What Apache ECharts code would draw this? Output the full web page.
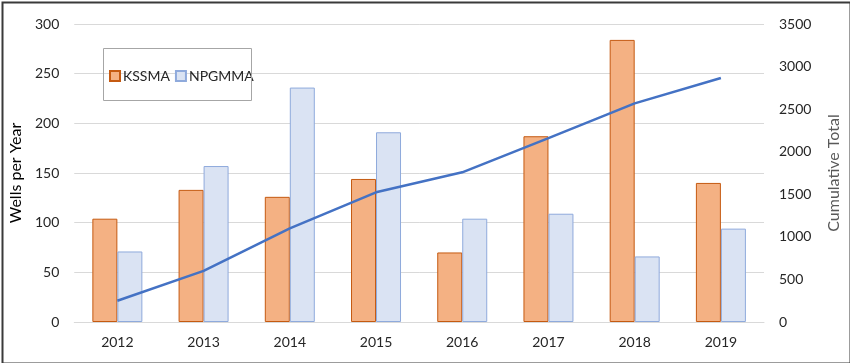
<!DOCTYPE html>
<html>
<head>
<meta charset="utf-8">
<script src="https://cdn.jsdelivr.net/npm/echarts@6/dist/echarts.min.js"></script>
<style>
html,body{margin:0;padding:0;background:#fff;}
#c{width:850px;height:363px;}
</style>
</head>
<body>
<div id="c"></div>
<script>
const years = ['2012','2013','2014','2015','2016','2017','2018','2019'];
const kssma = [104, 133, 126, 144, 70, 187, 284, 140];
const npgmma = [71, 157, 236, 191, 104, 109, 66, 94];
const cumulative = [250, 600, 1100, 1523, 1758, 2160, 2568, 2866];

const FONT = 'Lato, "Open Sans", sans-serif';
const chart = echarts.init(document.getElementById('c'));
chart.setOption({
  animation: false,
  textStyle: { fontFamily: FONT },
  grid: { left: 67, right: 83, top: 24, bottom: 41, containLabel: false },
  legend: {
    left: 104, top: 64,
    itemWidth: 10, itemHeight: 10, itemGap: 5,
    textStyle: { fontFamily: FONT, fontSize: 14, color: '#262626', padding: [0,0,0,-2] },
    data: [
      { name: 'KSSMA', icon: 'rect' },
      { name: 'NPGMMA', icon: 'rect' }
    ]
  },
  graphic: [
    { type: 'rect', left: 101, top: 46, shape: { width: 148, height: 52 },
      style: { fill: 'none', stroke: '#a6a6a6', lineWidth: 1 }, z: 100 },
    { type: 'rect', left: 0, top: 0, shape: { x: 1, y: 1, width: 848, height: 361 },
      style: { fill: 'none', stroke: '#3a3a3a', lineWidth: 2 }, z: 100 }
  ],
  xAxis: {
    type: 'category', data: years,
    axisLine: { lineStyle: { color: '#d9d9d9', width: 1 } },
    axisTick: { show: false },
    axisLabel: { color: '#262626', fontSize: 14, margin: 13, fontFamily: FONT }
  },
  yAxis: [
    {
      type: 'value', min: 0, max: 300, interval: 50,
      name: 'Wells per Year', nameLocation: 'middle', nameGap: 44,
      nameTextStyle: { fontSize: 16, color: '#000', fontFamily: FONT },
      axisLabel: { color: '#262626', fontSize: 14, margin: 15, fontFamily: FONT },
      splitLine: { lineStyle: { color: '#d9d9d9' } },
      axisLine: { show: false }, axisTick: { show: false }
    },
    {
      type: 'value', min: 0, max: 3500, interval: 500,
      name: 'Cumulative Total', nameLocation: 'middle', nameGap: 62, nameRotate: 90,
      nameTextStyle: { fontSize: 16, color: '#595959', fontFamily: FONT },
      axisLabel: { color: '#262626', fontSize: 14, margin: 15, fontFamily: FONT,
        formatter: function (v) { return String(v); } },
      splitLine: { show: false },
      axisLine: { show: false }, axisTick: { show: false }
    }
  ],
  series: [
    {
      name: 'KSSMA', type: 'bar', data: kssma, barWidth: 25, barGap: '0%',
      itemStyle: { color: '#f4b183', borderColor: '#c55a11', borderWidth: 1 }
    },
    {
      name: 'NPGMMA', type: 'bar', data: npgmma, barWidth: 25, barGap: '0%',
      itemStyle: { color: '#dae3f3', borderColor: '#8faadc', borderWidth: 1 }
    },
    {
      name: 'Cumulative', type: 'line', yAxisIndex: 1, data: cumulative,
      symbol: 'none', lineStyle: { color: '#4472c4', width: 2.5 },
      itemStyle: { color: '#4472c4' }
    }
  ]
});
</script>
</body>
</html>
